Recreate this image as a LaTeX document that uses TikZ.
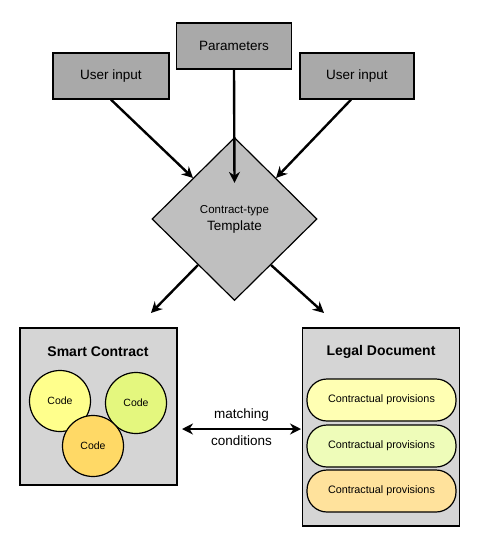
\documentclass[tikz,border=0pt]{standalone}
\usepackage{fontspec}
\setmainfont{Liberation Sans}
\usetikzlibrary{arrows.meta,shapes.geometric,positioning,calc}
\definecolor{inputgray}{HTML}{A9A9A9}
\definecolor{tmplgray}{HTML}{BFBFBF}
\definecolor{panelgray}{HTML}{D5D5D5}
\definecolor{codeyellow}{HTML}{FFFF8C}
\definecolor{codegreen}{HTML}{E4F77E}
\definecolor{codeorange}{HTML}{FFD966}
\definecolor{provyellow}{HTML}{FFFFB3}
\definecolor{provgreen}{HTML}{EEFCB9}
\definecolor{provorange}{HTML}{FFE29C}

\begin{document}
\begin{tikzpicture}[
    x=1pt, y=-1pt,
    inbox/.style={
        draw,
        fill=inputgray,
        line width=1.3pt,
        minimum width=115pt,
        minimum height=46pt,
        font=\fontsize{13.5}{15}\selectfont
    },
    panel/.style={
        draw,
        fill=panelgray,
        line width=1.1pt,
        minimum width=157pt
    },
    code/.style={
        draw,
        circle,
        line width=1.2pt,
        minimum size=61pt,
        inner sep=0pt,
        font=\fontsize{10.5}{12}\selectfont
    },
    prov/.style={
        draw,
        rounded corners=20pt,
        line width=1.2pt,
        minimum width=149pt,
        minimum height=42pt,
        font=\fontsize{10.8}{12}\selectfont
    },
    title/.style={font=\bfseries\fontsize{14}{16}\selectfont},
    arr/.style={-{Stealth[length=11pt,width=11pt]}, line width=2.4pt}
]
\useasboundingbox (0,0) rectangle (478,552);

% inputs
\node[inbox] (params) at (234,46) {Parameters};
\node[inbox, minimum width=116pt] (userL) at (111,76) {User input};
\node[inbox, minimum width=114pt] (userR) at (357,76) {User input};

% template
\node[diamond, draw, fill=tmplgray, line width=1.2pt, minimum width=165pt,
      minimum height=163pt, inner sep=0pt, align=center] (tmpl) at (234.5,219)
    {{\fontsize{11.5}{13}\selectfont Contract-type}\\[4pt]{\fontsize{13.5}{15}\selectfont Template}};

\draw[arr] (userL.south) -- (tmpl.north west);
\draw[arr] ([xshift=-6pt]userR.south) -- (tmpl.north east);
\draw[arr] (params.south) -- ([yshift=-46pt]tmpl.north);

% outputs
\node[panel, minimum height=157pt] (sc) at (98.5,406.5) {};
\node[panel, minimum height=198pt] (ld) at (381,427) {};
\node[title] (scT) at (98,352) {Smart Contract};
\node[title] (ldT) at (381,352) {Legal Document};

\coordinate (scTip) at (151,313);
\coordinate (ldTip) at (324,313);
\draw[arr] ([shift={(5pt,-5pt)}]tmpl.south west) -- (scTip);
\draw[arr] ([shift={(-5pt,-5pt)}]tmpl.south east) -- (ldTip);

\node[code, fill=codeyellow] (code1) at (60,401) {Code};
\node[code, fill=codegreen] (code2) at (136,403) {Code};
\node[code, fill=codeorange] (code3) at (93,446) {Code};

\node[prov, fill=provyellow] (prov1) at (381.5,400) {Contractual provisions};
\node[prov, fill=provgreen] (prov2) at (381.5,446) {Contractual provisions};
\node[prov, fill=provorange] (prov3) at (381.5,491) {Contractual provisions};

% matching
\coordinate (mL) at (182,429);
\coordinate (mR) at (301,429);
\draw[arr, {Stealth[length=11pt,width=11pt]}-{Stealth[length=11pt,width=11pt]}] (mL) -- (mR)
    node[midway, above=3pt, font=\fontsize{13.5}{15}\selectfont] {matching}
    node[midway, below=2pt, font=\fontsize{13.5}{15}\selectfont] {conditions};

\end{tikzpicture}
\end{document}
